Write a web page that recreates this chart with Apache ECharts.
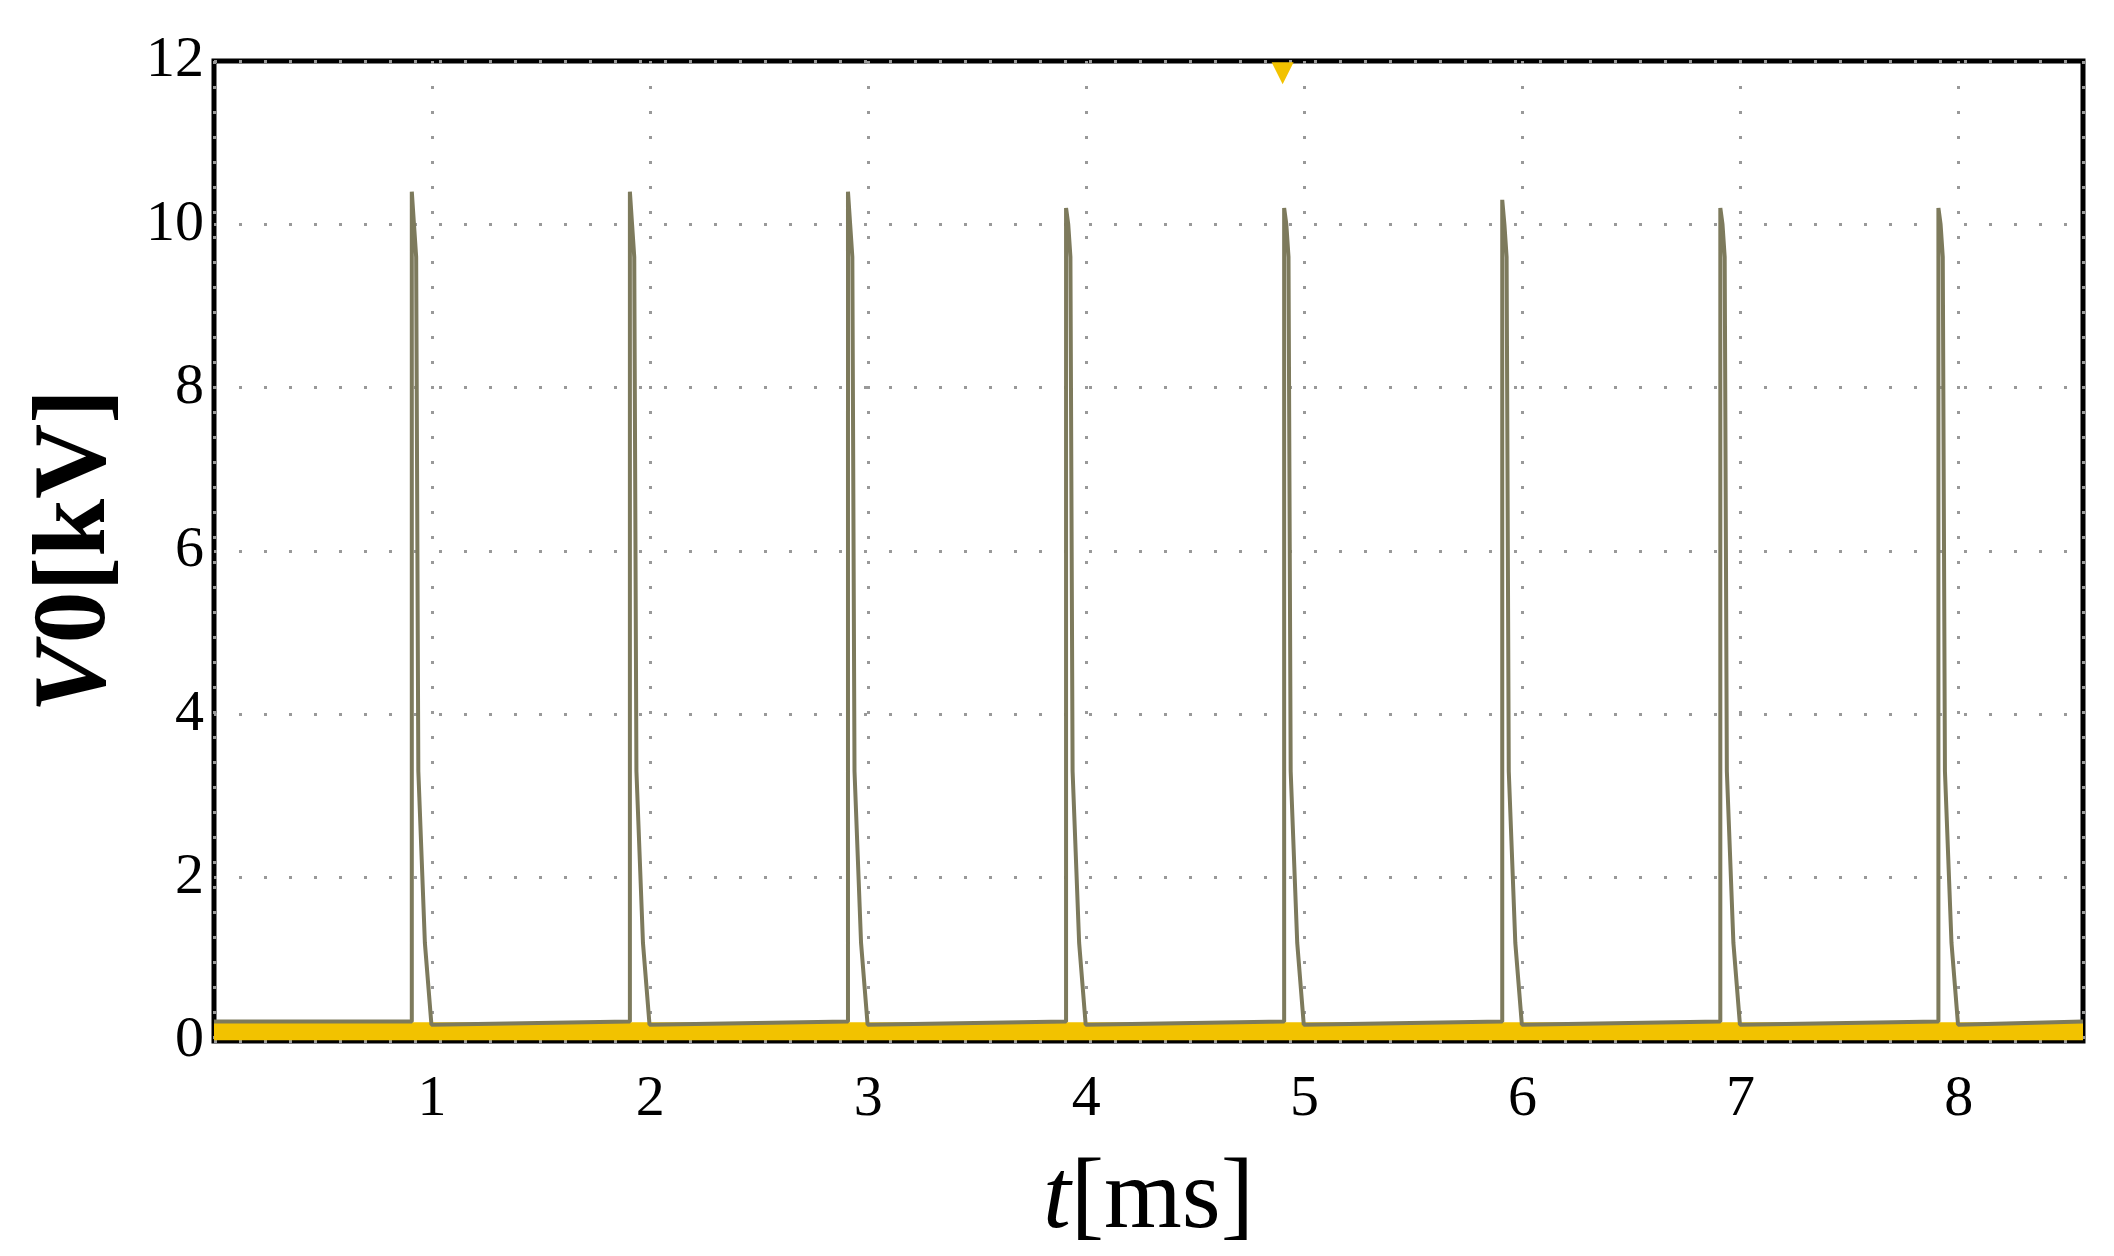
<!DOCTYPE html>
<html><head><meta charset="utf-8">
<script src="https://cdn.jsdelivr.net/npm/echarts@6/dist/echarts.min.js"></script>
<style>html,body{margin:0;padding:0;background:#fff}#chart{width:2114px;height:1256px}</style>
</head><body><div id="chart"></div>
<script>
// pulse start times [ms] and peak voltages [kV]
var pulseStart = [0.907, 1.907, 2.907, 3.907, 4.907, 5.907, 6.907, 7.907];
var pulsePeak = [10.4, 10.4, 10.4, 10.2, 10.2, 10.3, 10.2, 10.2];
// shape of one pulse after its peak: time offsets and levels
var shapeDt = [0.01, 0.02, 0.03, 0.06, 0.09];
var shapeV = [10.0, 9.6, 3.3, 1.2, 0.2];
var baseV = 0.24;
var bandV = 0.12;
var xTicks = [1, 2, 3, 4, 5, 6, 7, 8];
var yTicks = [0, 2, 4, 6, 8, 10, 12];

var pts = [[0, baseV]];
for (var i = 0; i < pulseStart.length; i++) {
    var t0 = pulseStart[i];
    pts.push([t0, baseV]);
    pts.push([t0, pulsePeak[i]]);
    for (var j = 0; j < shapeDt.length; j++) pts.push([t0 + shapeDt[j], shapeV[j]]);
}
pts.push([8.57, baseV]);

var band = [[0, bandV], [8.57, bandV]];

var chart = echarts.init(document.getElementById('chart'));
var font = 'Liberation Serif, DejaVu Serif, serif';
chart.setOption({
    animation: false,
    grid: { left: 214, right: 31, top: 61, bottom: 213, show: true, borderColor: '#000', borderWidth: 5 },
    xAxis: {
        type: 'value', min: 0, max: 8.57, interval: 1,
        axisLine: { show: false }, axisTick: { show: false },
        axisLabel: { fontFamily: font, fontSize: 58, color: '#000', margin: 30,
            formatter: function (v) { return xTicks.indexOf(v) >= 0 ? v : ''; } },
        splitLine: { show: true, lineStyle: { color: '#999', type: [3, 22], width: 3 } },
        name: '{i|t}[ms]', nameLocation: 'middle', nameGap: 110,
        nameTextStyle: { fontFamily: font, fontSize: 100, color: '#000',
            rich: { i: { fontFamily: font, fontSize: 100, fontStyle: 'italic' } } }
    },
    yAxis: {
        type: 'value', min: 0, max: 12, interval: 2,
        axisLine: { show: false }, axisTick: { show: false },
        axisLabel: { fontFamily: font, fontSize: 58, color: '#000', margin: 10,
            formatter: function (v) { return yTicks.indexOf(v) >= 0 ? v : ''; } },
        splitLine: { show: true, lineStyle: { color: '#999', type: [3, 22], width: 3 } },
        name: '{i|V}0[kV]', nameLocation: 'middle', nameGap: 85,
        nameTextStyle: { fontFamily: font, fontSize: 104, color: '#000', fontWeight: 'bold',
            rich: { i: { fontFamily: font, fontSize: 104, fontStyle: 'italic', fontWeight: 'bold' } } }
    },
    series: [
        { type: 'line', data: band, symbol: 'none', lineStyle: { color: '#f2c200', width: 18 }, z: 1 },
        { type: 'line', data: pts, symbol: 'none', lineStyle: { color: '#7d7a5c', width: 4 }, z: 2,
          markPoint: { symbol: 'triangle', symbolRotate: 180, symbolSize: 22,
              itemStyle: { color: '#f2c200' }, label: { show: false },
              data: [{ coord: [4.9, 11.85] }] } }
    ]
});
</script></body></html>
